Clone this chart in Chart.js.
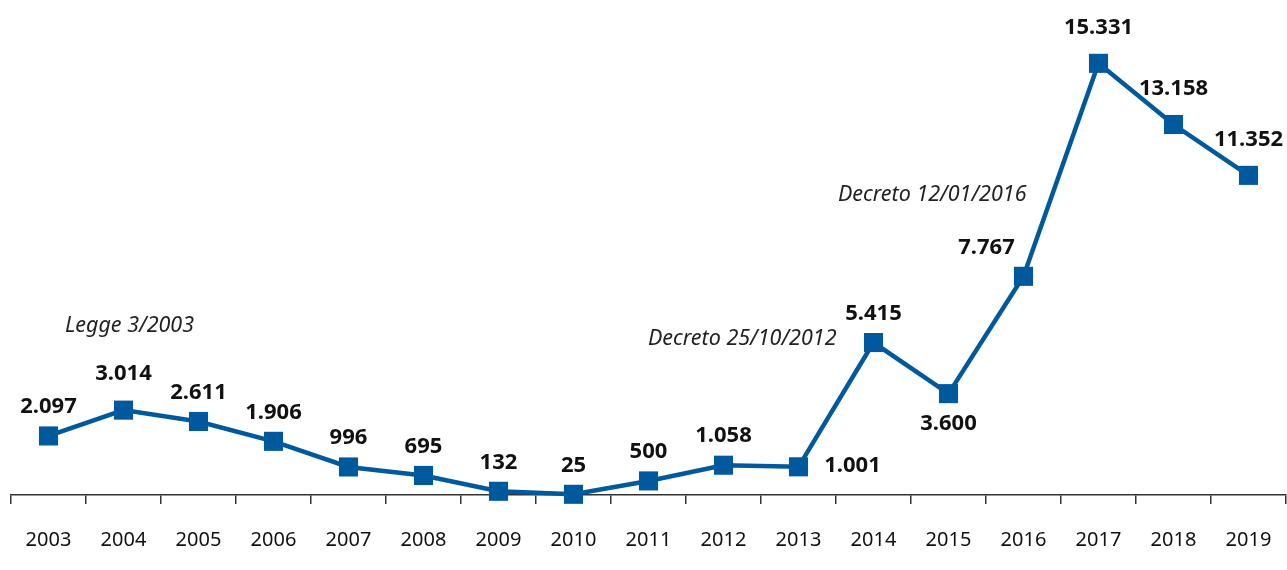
<!DOCTYPE html>
<html>
<head>
<meta charset="utf-8">
<script src="https://cdn.jsdelivr.net/npm/chart.js@4.4.1/dist/chart.umd.min.js"></script>
<style>
  html, body { margin: 0; padding: 0; background: #ffffff; overflow: hidden; }
  #wrap { width: 1287px; height: 570px; position: relative; overflow: hidden; }
  canvas { display: block; }
</style>
</head>
<body>
<div id="wrap"><canvas id="c" width="1287" height="576"></canvas></div>
<script>
const years = ['2003','2004','2005','2006','2007','2008','2009','2010','2011','2012','2013','2014','2015','2016','2017','2018','2019'];
const values = [2097, 3014, 2611, 1906, 996, 695, 132, 25, 500, 1058, 1001, 5415, 3600, 7767, 15331, 13158, 11352];
const valueLabels = ['2.097','3.014','2.611','1.906','996','695','132','25','500','1.058','1.001','5.415','3.600','7.767','15.331','13.158','11.352'];
const labelPlacement = ['above','aboveFar','above','above','above','above','above','above','above','above','right','above','below','aboveLeft','aboveFar','aboveFar','aboveFar'];
const annotations = [
  { text: 'Legge 3/2003', index: 1, value: 6000, align: 'center', dx: 6 },
  { text: 'Decreto 25/10/2012', index: 11, value: 5540, align: 'right', dx: -37 },
  { text: 'Decreto 12/01/2016', index: 13, value: 10650, align: 'right', dx: 3 }
];

const BLUE = '#00599c';

const labelPlugin = {
  id: 'valueLabels',
  afterDatasetsDraw(chart) {
    const ctx = chart.ctx;
    const meta = chart.getDatasetMeta(0);
    ctx.save();
    ctx.font = 'bold 22px "Noto Sans"';
    ctx.fillStyle = '#111111';
    ctx.textBaseline = 'middle';
    meta.data.forEach((pt, i) => {
      let x = pt.x, y = pt.y;
      ctx.textAlign = 'center';
      switch (labelPlacement[i]) {
        case 'above': y -= 29; break;
        case 'aboveFar': y -= 36; break;
        case 'below': y += 30; break;
        case 'right': x += 54; y -= 1; break;
        case 'aboveLeft': x -= 37; y -= 29; break;
      }
      const w = ctx.measureText(valueLabels[i]).width;
      if (x + w / 2 > 1287 - 2) x = 1287 - 2 - w / 2;
      ctx.fillText(valueLabels[i], x, y);
    });
    ctx.font = 'italic 21.5px "Noto Sans"';
    ctx.fillStyle = '#222222';
    const xs = chart.scales.x, ys = chart.scales.y;
    annotations.forEach(a => {
      ctx.textAlign = a.align;
      ctx.fillText(a.text, xs.getPixelForValue(a.index) + a.dx, ys.getPixelForValue(a.value));
    });
    ctx.restore();
  }
};

new Chart(document.getElementById('c'), {
  type: 'line',
  data: {
    labels: years,
    datasets: [{
      data: values,
      borderColor: BLUE,
      backgroundColor: BLUE,
      borderWidth: 4.5,
      pointStyle: 'rect',
      pointRadius: 13.5,
      pointHoverRadius: 13.5,
      pointBorderWidth: 0,
      pointBackgroundColor: BLUE,
      tension: 0,
      clip: false
    }]
  },
  options: {
    responsive: false,
    animation: false,
    events: [],
    layout: { autoPadding: false, padding: { left: 11, right: 1, top: 0, bottom: 0 } },
    plugins: { legend: { display: false }, tooltip: { enabled: false }, title: { display: false } },
    scales: {
      x: {
        offset: true,
        afterFit(scale) { scale.paddingLeft = 0; scale.paddingRight = 0; },
        grid: { display: true, offset: true, drawOnChartArea: false, drawTicks: true, tickLength: 9, color: '#333333', lineWidth: 1.5 },
        border: { display: true, color: '#333333', width: 1.5 },
        ticks: { color: '#111111', font: { family: '"Noto Sans"', size: 20 }, padding: 24, maxRotation: 0, autoSkip: false }
      },
      y: {
        display: false,
        min: 0,
        max: 17580
      }
    }
  },
  plugins: [labelPlugin]
});
</script>
</body>
</html>
